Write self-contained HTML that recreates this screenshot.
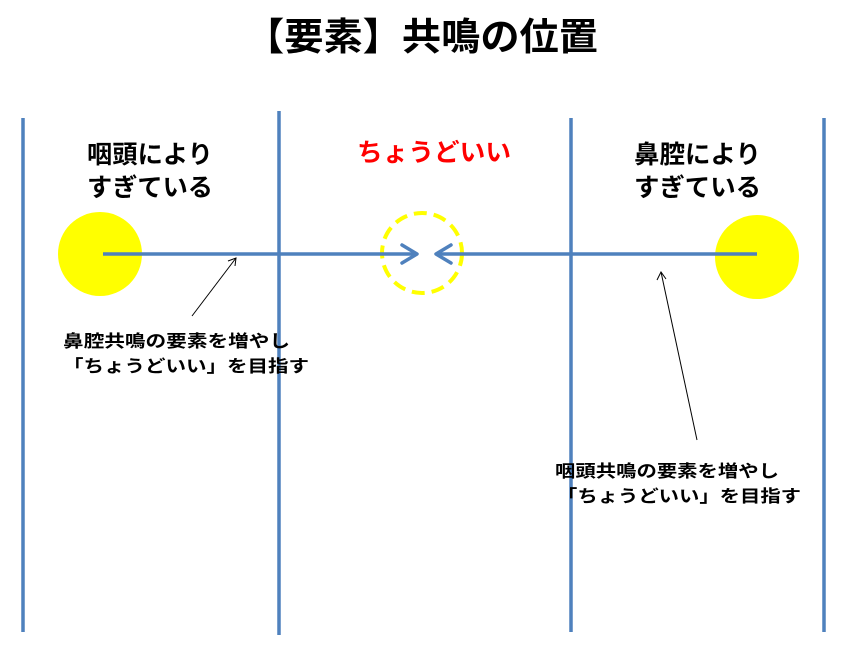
<!DOCTYPE html>
<html><head><meta charset="utf-8"><style>
html,body{margin:0;padding:0;background:#fff;}
svg{display:block;}
text{font-family:"Liberation Sans","Noto Sans CJK JP",sans-serif;font-weight:bold;}
</style></head><body>
<svg width="844" height="668" viewBox="0 0 844 668" xmlns="http://www.w3.org/2000/svg">
<rect width="844" height="668" fill="#fff"/>
<text x="245" y="50" font-size="38" textLength="353" lengthAdjust="spacingAndGlyphs" fill="#000">【要素】共鳴の位置</text>
<circle cx="100" cy="254" r="42" fill="#ffff00"/>
<circle cx="757" cy="257" r="42" fill="#ffff00"/>
<circle cx="422" cy="253" r="40" fill="none" stroke="#ffff00" stroke-width="4" stroke-dasharray="13,7"/>
<g stroke="#4f81bd" stroke-width="3.5" fill="none">
<line x1="23" y1="118" x2="23" y2="632"/>
<line x1="279" y1="111" x2="279" y2="635"/>
<line x1="571" y1="118" x2="571" y2="632"/>
<line x1="824" y1="118" x2="824" y2="632"/>
<line x1="103" y1="254" x2="416" y2="254"/>
<line x1="437" y1="254" x2="757" y2="254"/>
<polyline points="402,245 417,254 402,263" stroke-linecap="round" stroke-linejoin="round"/>
<polyline points="451,245 436,254 451,263" stroke-linecap="round" stroke-linejoin="round"/>
</g>
<g stroke="#000" stroke-width="1" fill="none">
<line x1="192" y1="316" x2="236" y2="258"/>
<polyline points="228,261 236,258 235,266"/>
<line x1="697" y1="440" x2="661" y2="272"/>
<polyline points="657,280 661,272 666,279"/>
</g>
<text x="87" y="163" font-size="25" textLength="126" lengthAdjust="spacingAndGlyphs">咽頭により</text>
<text x="87" y="196" font-size="25" textLength="126" lengthAdjust="spacingAndGlyphs">すぎている</text>
<text x="634" y="163" font-size="25" textLength="127" lengthAdjust="spacingAndGlyphs">鼻腔により</text>
<text x="634" y="196" font-size="25" textLength="127" lengthAdjust="spacingAndGlyphs">すぎている</text>
<text x="357" y="161" font-size="25" fill="#ff0000" textLength="154" lengthAdjust="spacingAndGlyphs">ちょうどいい</text>
<text x="63" y="347" font-size="17" textLength="227" lengthAdjust="spacingAndGlyphs">鼻腔共鳴の要素を増やし</text>
<text x="63" y="372" font-size="17" textLength="246" lengthAdjust="spacingAndGlyphs">「ちょうどいい」を目指す</text>
<text x="555" y="477" font-size="17" textLength="224" lengthAdjust="spacingAndGlyphs">咽頭共鳴の要素を増やし</text>
<text x="557" y="502" font-size="17" textLength="244" lengthAdjust="spacingAndGlyphs">「ちょうどいい」を目指す</text>
</svg>
</body></html>
